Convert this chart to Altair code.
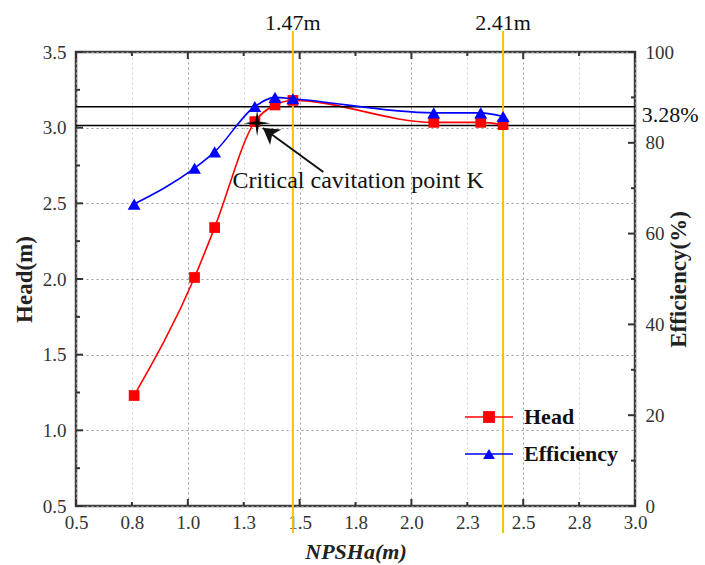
import altair as alt
import pandas as pd

# ---------------- data ----------------
npsha = [0.76, 1.03, 1.12, 1.30, 1.39, 1.47, 2.10, 2.31, 2.41]
head = [1.23, 2.01, 2.34, 3.04, 3.15, 3.18, 3.035, 3.035, 3.02]
efficiency = [66.5, 74.4, 78.0, 88.0, 90.0, 89.7, 86.6, 86.6, 85.8]

x_ticks = [0.5, 0.75, 1.0, 1.25, 1.5, 1.75, 2.0, 2.25, 2.5, 2.75, 3.0]
head_ticks = [0.5, 0.75, 1.0, 1.25, 1.5, 1.75, 2.0, 2.25, 2.5, 2.75, 3.0, 3.25, 3.5]
eff_ticks = [0, 10, 20, 30, 40, 50, 60, 70, 80, 90, 100]
eff_labels = [0, 20, 40, 60, 80, 100]

vline_x = [1.47, 2.41]
vline_labels = ["1.47m", "2.41m"]
hline_head = [3.139, 3.015]
pct_label = ["3.28%"]
pct_pos = [3.03, 3.085]

k_point = [1.31, 3.03]
note_text = ["Critical cavitation point K"]
note_pos = [1.20, 2.60]
arrow_tail = [1.606, 2.707]
arrow_tip = [1.336, 2.998]

legend_labels = ["Head", "Efficiency"]
legend_colors = ["#FF0000", "#0000FF"]
legend_shapes = ["square", "triangle-up"]

W, H = 559, 454
FONT = "Liberation Serif"
TXT = "#333333"
RED, BLUE, ORANGE = "#FF0000", "#0000FF", "#FFC000"

xs = alt.Scale(domain=[0.5, 3.0], nice=False, zero=False)
hs = alt.Scale(domain=[0.5, 3.5], nice=False, zero=False)
es = alt.Scale(domain=[0, 100], nice=False, zero=False)

df = pd.DataFrame({"x": npsha, "head": head, "eff": efficiency})
grid_color = {"condition": {"test": "datum.value % 0.5 == 0", "value": "#9a9a9a"}, "value": "#d4d4d4"}

# ---------------- head layer ----------------
x_axis = alt.Axis(values=x_ticks, format=".1f", grid=True, gridDash=[2, 3], gridColor=grid_color,
                  gridWidth=1, ticks=False, tickSize=0, domain=False, labelFlush=False,
                  labelOverlap=False, labelFont=FONT, labelFontSize=19, labelColor=TXT,
                  labelPadding=7, title="NPSHa(m)", titleFont=FONT, titleFontSize=22,
                  titleFontWeight="bold", titleFontStyle="italic", titleColor="#222",
                  titleX=W / 2, titleY=45, titleBaseline="middle", titleAlign="center")
head_axis = alt.Axis(values=head_ticks, labelExpr="datum.value % 0.5 == 0 ? format(datum.value, '.1f') : ''",
                     grid=True, gridDash=[2, 3], gridColor=grid_color, gridWidth=1, ticks=False, tickSize=0,
                     domain=False, labelFlush=False, labelOverlap=False, labelFont=FONT, labelFontSize=19,
                     labelColor=TXT, labelPadding=10, title="Head(m)", titleFont=FONT, titleFontSize=23,
                     titleFontWeight="bold", titleColor="#222", titleX=-52, titleY=H / 2,
                     titleBaseline="middle", titleAlign="center", orient="left")

head_line = alt.Chart(df).mark_line(color=RED, strokeWidth=1.6, interpolate="monotone").encode(
    x=alt.X("x:Q", scale=xs, axis=x_axis),
    y=alt.Y("head:Q", scale=hs, axis=head_axis),
)
head_pts = alt.Chart(df).mark_point(shape="square", filled=True, color=RED, size=115, opacity=1).encode(
    x=alt.X("x:Q", scale=xs),
    y=alt.Y("head:Q", scale=hs),
)

hl_df = pd.DataFrame({"h": hline_head})
hlines = alt.Chart(hl_df).mark_rule(color="black", strokeWidth=1.5).encode(
    y=alt.Y("h:Q", scale=hs), x=alt.value(0), x2=alt.value(W))

vl_df = pd.DataFrame({"x": vline_x, "label": vline_labels})
vlines = alt.Chart(vl_df).mark_rule(color=ORANGE, strokeWidth=2).encode(
    x=alt.X("x:Q", scale=xs), y=alt.value(-21), y2=alt.value(481))
vtext = alt.Chart(vl_df).mark_text(font=FONT, fontSize=22, color="#111", align="center",
                                   baseline="alphabetic").encode(
    x=alt.X("x:Q", scale=xs), y=alt.value(-22), text="label:N")

pct_df = pd.DataFrame({"x": [pct_pos[0]], "y": [pct_pos[1]], "t": pct_label})
pct_text = alt.Chart(pct_df).mark_text(font=FONT, fontSize=22, color="#111", align="left",
                                       baseline="middle").encode(
    x=alt.X("x:Q", scale=xs), y=alt.Y("y:Q", scale=hs), text="t:N")

note_df = pd.DataFrame({"x": [note_pos[0]], "y": [note_pos[1]], "t": note_text})
note = alt.Chart(note_df).mark_text(font=FONT, fontSize=24, color="#111", align="left",
                                    baseline="alphabetic").encode(
    x=alt.X("x:Q", scale=xs), y=alt.Y("y:Q", scale=hs), text="t:N")

arr_df = pd.DataFrame({"x": [arrow_tail[0]], "y": [arrow_tail[1]], "x2": [arrow_tip[0]], "y2": [arrow_tip[1]]})
shaft = alt.Chart(arr_df).mark_rule(color="#111", strokeWidth=2).encode(
    x=alt.X("x:Q", scale=xs), y=alt.Y("y:Q", scale=hs), x2="x2:Q", y2="y2:Q")
arrowhead = alt.Chart(arr_df).mark_point(shape="M0,0 L-0.6,1 L0,0.72 L0.6,1 Z", filled=True, color="#111",
                                         size=1000, angle=306, opacity=1).encode(
    x=alt.X("x2:Q", scale=xs), y=alt.Y("y2:Q", scale=hs))

k_df = pd.DataFrame({"x": [k_point[0]], "y": [k_point[1]]})
kstar = alt.Chart(k_df).mark_point(
    shape="M0,-1 L0.13,-0.13 L1,0 L0.13,0.13 L0,1 L-0.13,0.13 L-1,0 L-0.13,-0.13 Z",
    filled=True, color="#000", size=700, opacity=1).encode(
    x=alt.X("x:Q", scale=xs), y=alt.Y("y:Q", scale=hs))

# manual inward ticks
xt_df = pd.DataFrame({"v": x_ticks, "major": [v % 0.5 == 0 for v in x_ticks]})
ht_df = pd.DataFrame({"v": head_ticks, "major": [v % 0.5 == 0 for v in head_ticks]})
et_df = pd.DataFrame({"v": eff_ticks, "major": [v % 20 == 0 for v in eff_ticks]})
TC = "#333"


def xtick(major, top):
    L = 7 if major else 4
    y0, y1 = (0, L) if top else (H, H - L)
    return alt.Chart(xt_df).transform_filter(
        "datum.major" if major else "!datum.major").mark_rule(color=TC, strokeWidth=2).encode(
        x=alt.X("v:Q", scale=xs), y=alt.value(y0), y2=alt.value(y1))


def htick(major):
    L = 7 if major else 4
    return alt.Chart(ht_df).transform_filter(
        "datum.major" if major else "!datum.major").mark_rule(color=TC, strokeWidth=2).encode(
        y=alt.Y("v:Q", scale=hs), x=alt.value(0), x2=alt.value(L))


def etick(major):
    L = 7 if major else 4
    return alt.Chart(et_df).transform_filter(
        "datum.major" if major else "!datum.major").mark_rule(color=TC, strokeWidth=2).encode(
        y=alt.Y("v:Q", scale=es), x=alt.value(W), x2=alt.value(W - L))


# legend
leg_layers = []
for i, (lab, col, shp) in enumerate(zip(legend_labels, legend_colors, legend_shapes)):
    ly = 365 + 37 * i
    ldf = pd.DataFrame({"t": [lab]})
    leg_layers.append(alt.Chart(ldf).mark_rule(color=col, strokeWidth=1.5).encode(
        x=alt.value(389), x2=alt.value(437), y=alt.value(ly)))
    leg_layers.append(alt.Chart(ldf).mark_point(shape=shp, filled=True, color=col, size=140, opacity=1).encode(
        x=alt.value(413), y=alt.value(ly)))
    leg_layers.append(alt.Chart(ldf).mark_text(font=FONT, fontSize=22, fontWeight="bold", color="#111",
                                               align="left", baseline="middle").encode(
        x=alt.value(448), y=alt.value(ly), text="t:N"))

head_layer = alt.layer(
    head_line, hlines, vlines, vtext, xtick(True, False), xtick(False, False), xtick(True, True),
    xtick(False, True), htick(True), htick(False), head_pts, shaft, arrowhead, kstar, note, pct_text,
    *leg_layers)

# ---------------- efficiency layer ----------------
eff_axis = alt.Axis(values=eff_labels, format="d", grid=False, ticks=False, tickSize=0, domain=False,
                    labelFlush=False, labelOverlap=False, labelFont=FONT, labelFontSize=19, labelColor=TXT,
                    labelPadding=10, title="Efficiency(%)", titleFont=FONT, titleFontSize=23,
                    titleFontWeight="bold", titleColor="#222", titleAngle=270, titleX=43, titleY=H / 2,
                    titleBaseline="middle", titleAlign="center", orient="right")
eff_line = alt.Chart(df).mark_line(color=BLUE, strokeWidth=1.6, interpolate="monotone").encode(
    x=alt.X("x:Q", scale=xs),
    y=alt.Y("eff:Q", scale=es, axis=eff_axis),
)
eff_pts = alt.Chart(df).mark_point(shape="triangle-up", filled=True, color=BLUE, size=165, opacity=1).encode(
    x=alt.X("x:Q", scale=xs),
    y=alt.Y("eff:Q", scale=es),
)
eff_layer = alt.layer(eff_line, etick(True), etick(False), eff_pts)

chart = alt.layer(head_layer, eff_layer).resolve_scale(y="independent").properties(
    width=W, height=H, autosize="none",
    padding={"left": 76, "top": 52, "right": 70, "bottom": 59},
).configure(font=FONT, background="white").configure_view(stroke="#404040", strokeWidth=2.5)

chart.save("out.html", embed_options={"renderer": "svg", "actions": False})
